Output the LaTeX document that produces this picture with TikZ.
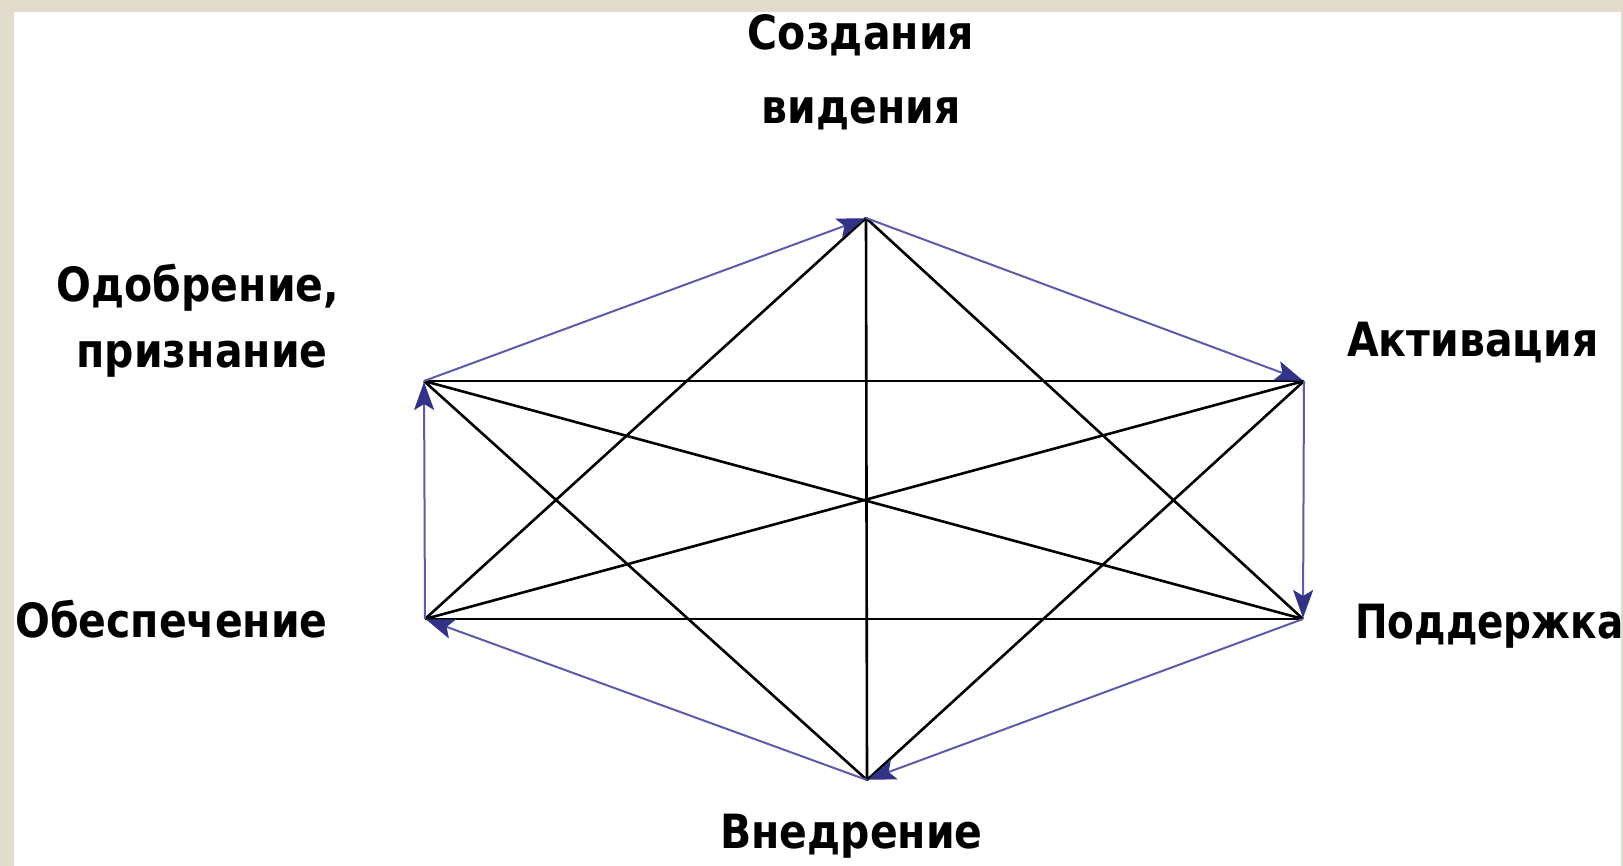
\documentclass[tikz,border=0pt]{standalone}
\usepackage{fontspec}
\setmainfont{DejaVu Sans}
\usetikzlibrary{arrows.meta}
\definecolor{beige}{RGB}{226,220,205}
\definecolor{cyc}{RGB}{92,92,170}
\definecolor{cychead}{RGB}{50,50,135}
\newcommand{\tallbox}[1]{\scalebox{1}[1.15]{#1}}
\newcommand{\tallnarrowbox}[1]{\scalebox{0.95}[1.15]{#1}}
\tikzset{
  lbl/.style={inner sep=0pt, font=\bfseries\fontsize{41}{48}\selectfont},
  blk/.style={draw=black, line width=2.6pt},
  cycarrow/.style={draw=cyc, line width=2pt, -{Stealth[length=28pt,width=20pt,inset=6pt,color=cychead]}, shorten >=1pt}
}
\begin{document}
\begin{tikzpicture}[x=1pt,y=-1pt]
\useasboundingbox (0,0) rectangle (1623,866);
\fill[beige] (0,0) rectangle (1623,866);
\fill[white] (14,12) rectangle (1621,866);
% vertices
\coordinate (T) at (866,218);
\coordinate (LU) at (424,381);
\coordinate (RU) at (1304,381);
\coordinate (RL) at (1303,619);
\coordinate (LL) at (425,619);
\coordinate (B) at (867,780);
% black diagonals
\draw[blk] (T) -- (B);
\draw[blk] (T) -- (LL);
\draw[blk] (T) -- (RL);
\draw[blk] (LU) -- (RU);
\draw[blk] (LL) -- (RL);
\draw[blk] (LU) -- (RL);
\draw[blk] (RU) -- (LL);
\draw[blk] (LU) -- (B);
\draw[blk] (RU) -- (B);
% blue cycle
\draw[cycarrow] (T) -- (RU);
\draw[cycarrow] (RU) -- (RL);
\draw[cycarrow] (RL) -- (B);
\draw[cycarrow] (B) -- (LL);
\draw[cycarrow] (LL) -- (LU);
\draw[cycarrow] (LU) -- (T);
% labels
\node[lbl, anchor=base] (ltop1) at (861,50) {\tallbox{Создания}};
\node[lbl, anchor=base] (ltop2) at (861,124) {\tallbox{видения}};
\node[lbl, anchor=base] (lodo1) at (198,302) {\tallbox{Одобрение,}};
\node[lbl, anchor=base] (lodo2) at (202,368) {\tallbox{признание}};
\node[lbl, anchor=base west] (lakt) at (1347,357) {\tallbox{Активация}};
\node[lbl, anchor=base west] (lobe) at (15,637) {\tallbox{Обеспечение}};
\node[lbl, anchor=base west] (lpod) at (1355,638) {\tallnarrowbox{Поддержка}};
\node[lbl, anchor=base west] (lvne) at (720,848) {\tallbox{Внедрение}};
\end{tikzpicture}
\end{document}
